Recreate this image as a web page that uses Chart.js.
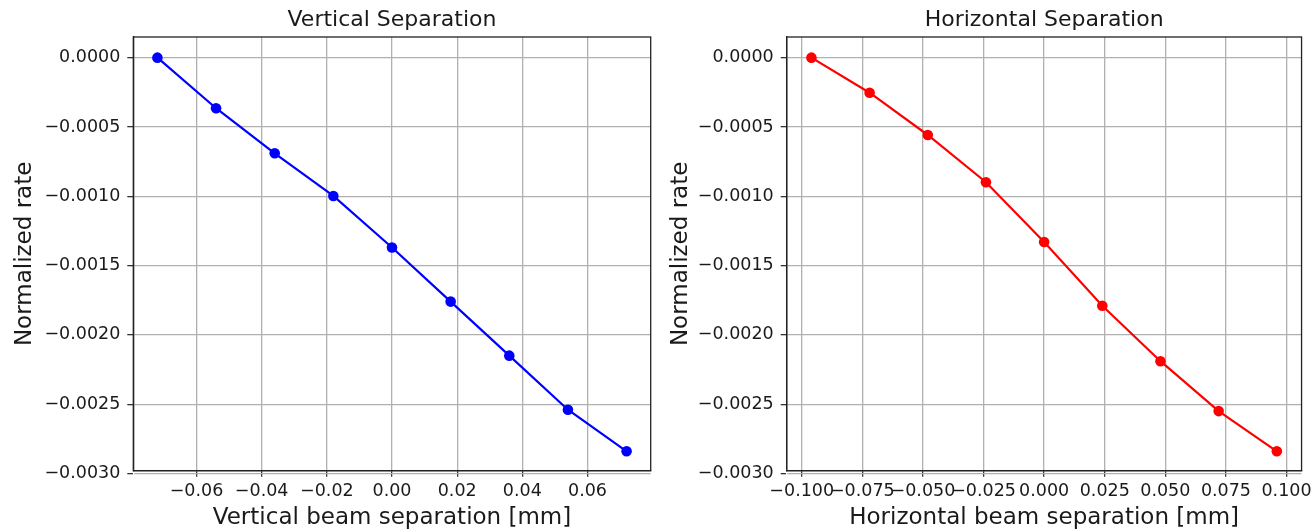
<!DOCTYPE html>
<html>
<head>
<meta charset="utf-8">
<script src="https://cdn.jsdelivr.net/npm/chart.js@4"></script>
<style>
  body { margin: 0; background: #fff; }
  .box { position: absolute; top: 0; }
</style>
</head>
<body>
<div class="box" style="left:0px"><canvas id="vertChart" width="660" height="532"></canvas></div>
<div class="box" style="left:656px"><canvas id="horChart" width="660" height="532"></canvas></div>
<script>
// beam separation scans (mm) and normalized rate
const vertSep = [-0.072, -0.054, -0.036, -0.018, 0, 0.018, 0.036, 0.054, 0.072];
const vertRate = [0, -0.000365, -0.00069, -0.000998, -0.00137, -0.00176, -0.00215, -0.00254, -0.00284];

const horSep = [-0.096, -0.072, -0.048, -0.024, 0, 0.024, 0.048, 0.072, 0.096];
const horRate = [0, -0.000253, -0.000558, -0.000899, -0.00133, -0.00179, -0.00219, -0.00255, -0.00284];

const rateTicks = [0, -0.0005, -0.001, -0.0015, -0.002, -0.0025, -0.003];
const vertSepTicks = [-0.06, -0.04, -0.02, 0, 0.02, 0.04, 0.06];
const horSepTicks = [-0.1, -0.075, -0.05, -0.025, 0, 0.025, 0.05, 0.075, 0.1];

const FONT = 'DejaVu Sans';
const TEXT = '#1a1a1a';

// matplotlib style minus sign
function fmt(v, digits) {
  const s = Math.abs(v).toFixed(digits);
  return v < 0 && Number(s) !== 0 ? '\u2212' + s : s;
}

// box around the whole plot area
const frame = {
  id: 'frame',
  afterDatasetsDraw(chart) {
    const a = chart.chartArea;
    const c = chart.ctx;
    c.save();
    c.strokeStyle = '#222';
    c.lineWidth = 1.3;
    c.strokeRect(a.left, a.top, a.right - a.left, a.bottom - a.top);
    c.restore();
  }
};

function makeChart(id, opts) {
  return new Chart(document.getElementById(id), {
    type: 'scatter',
    data: {
      datasets: [{
        data: opts.xs.map((x, i) => ({ x: x, y: opts.ys[i] })),
        showLine: true,
        borderColor: opts.color,
        borderWidth: 2.2,
        pointRadius: 5.3,
        pointHoverRadius: 5.3,
        pointBackgroundColor: opts.color,
        pointBorderWidth: 0
      }]
    },
    options: {
      responsive: false,
      animation: false,
      layout: { padding: { left: 0, right: opts.padRight, top: 0, bottom: 0 } },
      plugins: {
        legend: { display: false },
        tooltip: { enabled: false },
        title: {
          display: true,
          fullSize: false,
          text: opts.title,
          color: TEXT,
          font: { family: FONT, size: 22, weight: 'normal', lineHeight: 1.2 },
          padding: { top: 7, bottom: 3.6 }
        }
      },
      scales: {
        x: {
          type: 'linear',
          min: opts.xMin,
          max: opts.xMax,
          afterBuildTicks: (axis) => { axis.ticks = opts.xTicks.map(v => ({ value: v })); },
          afterFit: (axis) => { axis.height = 61.3; },
          grid: { color: '#b0b0b0', lineWidth: 1.3, tickLength: 6, tickColor: '#333', tickWidth: 1.3 },
          border: { color: '#222', width: 1.3 },
          ticks: {
            autoSkip: false,
            maxRotation: 0,
            padding: 4,
            color: TEXT,
            font: { family: FONT, size: 17.5 },
            callback: (v) => fmt(v, opts.xDigits)
          },
          title: {
            display: true,
            text: opts.xLabel,
            color: TEXT,
            font: { family: FONT, size: 23, lineHeight: 1.2 },
            padding: { top: 0, bottom: 0.5 }
          }
        },
        y: {
          type: 'linear',
          min: -0.00298,
          max: 0.000149,
          afterBuildTicks: (axis) => { axis.ticks = rateTicks.map(v => ({ value: v })); },
          afterFit: (axis) => { axis.width = opts.yWidth; },
          grid: { color: '#b0b0b0', lineWidth: 1.3, tickLength: 6, tickColor: '#333', tickWidth: 1.3 },
          border: { color: '#222', width: 1.3 },
          ticks: {
            padding: 7,
            color: TEXT,
            font: { family: FONT, size: 17.5 },
            callback: (v) => fmt(v, 4)
          },
          title: {
            display: true,
            text: 'Normalized rate',
            color: TEXT,
            font: { family: FONT, size: 23, lineHeight: 1.2 },
            padding: { top: 11, bottom: 0 }
          }
        }
      }
    },
    plugins: [frame]
  });
}

makeChart('vertChart', {
  xs: vertSep, ys: vertRate, color: '#0000ff',
  title: 'Vertical Separation',
  xLabel: 'Vertical beam separation [mm]',
  xMin: -0.0794, xMax: 0.0794, xTicks: vertSepTicks, xDigits: 2,
  yWidth: 133.3, padRight: 9.3
});

makeChart('horChart', {
  xs: horSep, ys: horRate, color: '#ff0000',
  title: 'Horizontal Separation',
  xLabel: 'Horizontal beam separation [mm]',
  xMin: -0.1062, xMax: 0.1062, xTicks: horSepTicks, xDigits: 3,
  yWidth: 130.7, padRight: 12
});
</script>
</body>
</html>
